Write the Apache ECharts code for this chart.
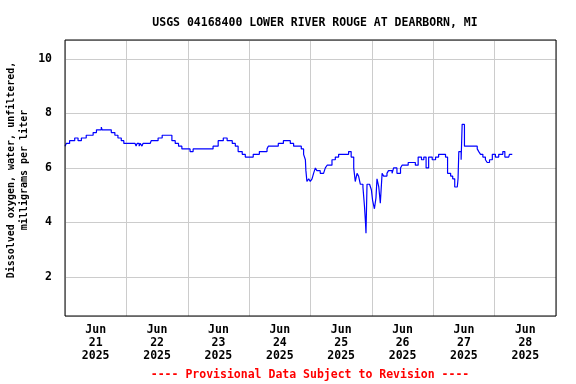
<!DOCTYPE html>
<html>
<head>
<meta charset="utf-8">
<script src="https://cdn.jsdelivr.net/npm/echarts@6/dist/echarts.min.js"></script>
<style>
  html, body { margin: 0; padding: 0; background: #fff; }
  #chart { width: 576px; height: 384px; }
</style>
</head>
<body>
<div id="chart"></div>
<script>
// hours since Jun 21 2025 00:00
var hours = [0, 0.5, 1.8, 3.8, 5.1, 6.4, 8.3, 9.7, 11.0, 12.3, 14.2, 14.5, 16.8, 18.1, 19.5, 20.7, 22.0, 23.0,
  27.4, 27.8, 28.2, 29.0, 29.4, 30.1, 30.5, 33.3, 33.7, 36.4, 38.0, 39.2, 40.3, 41.8, 43.1, 44.4, 45.7, 47.0,
  48.9, 50.1, 54.8, 56.0, 57.9, 59.9, 61.9, 63.4, 65.4, 66.6, 67.7, 69.3, 70.5, 72.4, 73.6, 76.0, 76.3, 79.0,
  79.5, 81.4, 83.4, 85.4, 86.8, 88.1, 89.4, 91.3, 92.4, 93.3, 94.0, 94.2, 94.6, 95.3, 95.9, 96.6, 97.2, 97.9,
  98.5, 99.8, 101.1, 101.8, 102.5, 104.4, 105.7, 107.0, 109.6, 110.9, 111.9, 112.9, 113.5, 114.2, 114.8, 115.5,
  116.5, 117.1, 117.5, 117.7, 118.1, 119.1, 119.8, 120.3, 121.0, 121.6, 122.0, 122.7, 123.3, 124.0, 124.6,
  125.9, 126.5, 127.9, 128.5, 129.8, 131.2, 131.8, 133.1, 134.2, 135.7, 137.0, 138.1, 139.4, 140.3, 141.2,
  142.2, 143.6, 144.9, 146.1, 147.7, 148.8, 149.6, 150.8, 151.6, 152.4, 153.4, 153.7, 154.0, 154.6, 154.9,
  155.3, 155.7, 156.2, 156.9, 159.8, 161.2, 161.8, 162.5, 163.4, 164.4, 165.1, 166.0, 167.1, 168.3, 169.6,
  171.2, 172.0, 173.5, 173.8, 174.9];
var dox = [6.8, 6.9, 7.0, 7.1, 7.0, 7.1, 7.2, 7.2, 7.3, 7.4, 7.5, 7.4, 7.4, 7.3, 7.2, 7.1, 7.0, 6.9,
  6.9, 6.8, 6.9, 6.8, 6.9, 6.8, 6.9, 6.9, 7.0, 7.1, 7.2, 7.2, 7.2, 7.0, 6.9, 6.8, 6.7, 6.7,
  6.6, 6.7, 6.7, 6.7, 6.8, 7.0, 7.1, 7.0, 6.9, 6.8, 6.6, 6.5, 6.4, 6.4, 6.5, 6.6, 6.6, 6.7,
  6.8, 6.8, 6.9, 7.0, 7.0, 6.9, 6.8, 6.8, 6.7, 6.5, 6.3, 5.9, 5.5, 5.6, 5.5, 5.6, 5.8, 6.0,
  5.9, 5.8, 5.8, 6.0, 6.1, 6.3, 6.4, 6.5, 6.5, 6.6, 6.4, 6.0, 5.5, 5.8, 5.7, 5.4,
  5.3, 4.6, 4.0, 3.6, 5.4, 5.4, 5.2, 4.8, 4.5, 4.9, 5.6, 5.3, 4.7, 5.8, 5.7,
  5.8, 5.9, 5.8, 6.0, 5.8, 6.0, 6.1, 6.1, 6.2, 6.2, 6.1, 6.4, 6.3, 6.4, 6.0,
  6.4, 6.3, 6.4, 6.5, 6.5, 6.4, 5.8, 5.7, 5.6, 5.3, 5.3, 5.6, 6.6, 6.6, 6.3,
  7.6, 7.6, 6.8, 6.8, 6.8, 6.7, 6.6, 6.5, 6.4, 6.3, 6.2, 6.3, 6.5, 6.4, 6.5,
  6.6, 6.4, 6.4, 6.5, 6.5];
var dayLabels = ['Jun\n21\n2025', 'Jun\n22\n2025', 'Jun\n23\n2025', 'Jun\n24\n2025',
  'Jun\n25\n2025', 'Jun\n26\n2025', 'Jun\n27\n2025', 'Jun\n28\n2025'];

var seriesData = hours.map(function (h, i) { return [h, dox[i]]; });
var font = '"DejaVu Sans Mono", monospace';

var chart = echarts.init(document.getElementById('chart'));
chart.setOption({
  animation: false,
  backgroundColor: '#fff',
  title: {
    text: 'USGS 04168400 LOWER RIVER ROUGE AT DEARBORN, MI',
    left: 310, top: 12, textAlign: 'center',
    textStyle: { fontFamily: font, fontSize: 11.5, fontWeight: 'bold', color: '#000' }
  },
  grid: {
    left: 65, right: 20, top: 40, bottom: 68, z: 10,
    show: true, borderColor: '#000', borderWidth: 1, backgroundColor: 'transparent'
  },
  xAxis: [{
    type: 'value', min: 0, max: 192, interval: 24,
    axisLine: { show: false }, axisTick: { show: false }, axisLabel: { show: false },
    splitLine: { show: true, lineStyle: { color: '#cccccc', width: 1 } }
  }, {
    type: 'category', data: dayLabels, boundaryGap: true, position: 'bottom',
    axisLine: { show: false }, axisTick: { show: false }, splitLine: { show: false },
    axisLabel: { fontFamily: font, fontSize: 11.5, fontWeight: 'bold', color: '#000', lineHeight: 13, margin: 8 }
  }],
  yAxis: {
    type: 'value', min: 0.56, max: 10.7, splitNumber: 5,
    axisLine: { show: false }, axisTick: { show: false },
    axisLabel: {
      fontFamily: font, fontSize: 11.5, fontWeight: 'bold', color: '#000', margin: 13,
      formatter: function (v) { return Number.isInteger(v) ? String(v) : ''; }
    },
    splitLine: { show: true, lineStyle: { color: '#cccccc', width: 1 } }
  },
  graphic: [{
    type: 'text', x: 18, y: 170, rotation: Math.PI / 2,
    style: {
      text: 'Dissolved oxygen, water, unfiltered,\nmilligrams per liter',
      fontFamily: font, fontSize: 10, fontWeight: 'bold', fill: '#000',
      align: 'center', verticalAlign: 'middle', lineHeight: 13
    }
  }, {
    type: 'text', x: 310, y: 375,
    style: {
      text: '---- Provisional Data Subject to Revision ----',
      fontFamily: font, fontSize: 11.5, fontWeight: 'bold', fill: '#ff0000',
      align: 'center', verticalAlign: 'middle'
    }
  }],
  series: [{
    type: 'line', xAxisIndex: 0, data: seriesData, step: 'end',
    showSymbol: false, symbol: 'none',
    lineStyle: { color: '#0000ff', width: 1.2 }
  }]
});
</script>
</body>
</html>
